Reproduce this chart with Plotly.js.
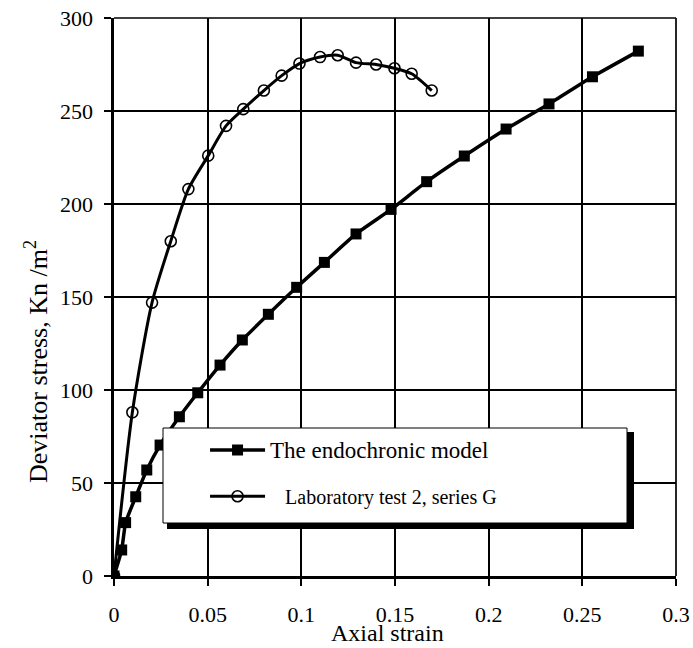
<!DOCTYPE html>
<html>
<head>
<meta charset="utf-8">
<script src="https://cdn.plot.ly/plotly-3.0.1.min.js"></script>
<style>html,body{margin:0;padding:0;background:#fff;}#chart{width:693px;height:648px;}</style>
</head>
<body>
<div id="chart"></div>
<script>
// Data
const modelName = "The endochronic model";
const modelStrain = [0, 0.0041, 0.0062, 0.0116, 0.0175, 0.0246, 0.0349, 0.0447, 0.0566, 0.0685, 0.0824, 0.0975, 0.1123, 0.1292, 0.1479, 0.1669, 0.187, 0.2093, 0.2322, 0.2554, 0.2799];
const modelStress = [0, 14, 28.7, 42.6, 57, 70.4, 85.6, 98.5, 113.4, 126.9, 140.7, 155.2, 168.6, 183.9, 197.1, 212, 225.8, 240.3, 253.8, 268.4, 282.2];

const labName = "\u00a0\u00a0\u00a0Laboratory test 2, series G";
const labStrain = [0, 0.0098, 0.0203, 0.0303, 0.0397, 0.0503, 0.0598, 0.069, 0.080, 0.0895, 0.099, 0.110, 0.1194, 0.1292, 0.1399, 0.1497, 0.1589, 0.1696];
const labStress = [0, 88, 147, 180, 208, 226, 242, 251, 261, 269, 275.5, 279, 280, 276, 275, 273, 270, 261];

const xTicks = [0, 0.05, 0.1, 0.15, 0.2, 0.25, 0.3];
const xTickText = ["0", "0.05", "0.1", "0.15", "0.2", "0.25", "0.3"];
const yTicks = [0, 50, 100, 150, 200, 250, 300];

const xTitle = "Axial strain";
const yTitle = "Deviator stress, Kn /m<sup>2</sup>";

const FONT = "Liberation Serif, Times New Roman, serif";

const traces = [
  {
    x: modelStrain, y: modelStress, name: '<span style="font-size:23px">' + modelName + '</span>',
    type: "scatter", mode: "lines+markers", legendgroup: "a",
    line: {color: "#000", width: 3.5, shape: "spline", smoothing: 0.5},
    marker: {symbol: "square", size: 11, color: "#000"}
  },
  {
    x: labStrain, y: labStress, name: '<span style="font-size:20px">' + labName + '</span>',
    type: "scatter", mode: "lines+markers", legendgroup: "b",
    line: {color: "#000", width: 3, shape: "spline", smoothing: 0.7},
    marker: {symbol: "circle-open", size: 11, color: "#000", line: {width: 1.6, color: "#000"}}
  }
];

const layout = {
  width: 693, height: 648,
  margin: {l: 114, r: 17, t: 18, b: 72, pad: 0},
  paper_bgcolor: "#fff", plot_bgcolor: "#fff",
  font: {family: FONT, size: 22, color: "#000"},
  showlegend: true,
  legend: {
    x: 0.162, y: 0.262, xanchor: "left", yanchor: "top",
    bgcolor: "rgba(0,0,0,0)", borderwidth: 0,
    font: {family: FONT, size: 21, color: "#000"},
    tracegroupgap: 16, traceorder: "grouped", itemwidth: 55
  },
  xaxis: {
    range: [0, 0.3], tickvals: xTicks, ticktext: xTickText,
    showgrid: true, gridcolor: "#000", gridwidth: 1.7,
    zeroline: false, showline: true, linecolor: "#000", linewidth: 3,
    ticks: "outside", ticklen: 7, tickwidth: 2, tickcolor: "#000",
    ticklabelstandoff: 10,
    tickfont: {family: FONT, size: 22, color: "#000"}
  },
  yaxis: {
    range: [0, 300], tickvals: yTicks,
    showgrid: true, gridcolor: "#000", gridwidth: 1.7,
    zeroline: false, showline: true, linecolor: "#000", linewidth: 3.5,
    ticks: "outside", ticklen: 7, tickwidth: 2, tickcolor: "#000",
    ticklabelstandoff: 6,
    tickfont: {family: FONT, size: 22, color: "#000"}
  },
  shapes: [
    {type: "line", xref: "paper", yref: "paper", x0: 0, x1: 1, y0: 1, y1: 1, line: {color: "#000", width: 1.7}},
    {type: "line", xref: "paper", yref: "paper", x0: 1, x1: 1, y0: 0, y1: 1, line: {color: "#000", width: 1.7}},
    {type: "rect", xref: "paper", yref: "paper", layer: "above",
     x0: (167 - 114) / 562, x1: (634 - 114) / 562, y0: (576 - 529) / 558, y1: (576 - 432) / 558,
     fillcolor: "#000", line: {width: 0}},
    {type: "rect", xref: "paper", yref: "paper", layer: "above",
     x0: (163 - 114) / 562, x1: (627 - 114) / 562, y0: (576 - 523) / 558, y1: (576 - 428) / 558,
     fillcolor: "#fff", line: {color: "#000", width: 1}}
  ],
  annotations: [
    {text: xTitle, xref: "paper", yref: "paper", x: 0.486, y: (576 - 633) / 558, xanchor: "center", yanchor: "middle",
     showarrow: false, font: {family: FONT, size: 24, color: "#000"}},
    {text: yTitle, xref: "paper", yref: "paper", x: (36 - 114) / 562, y: (576 - 362) / 558, xanchor: "center", yanchor: "middle",
     textangle: -90, showarrow: false, font: {family: FONT, size: 26, color: "#000"}}
  ]
};

Plotly.newPlot("chart", traces, layout, {displayModeBar: false, staticPlot: true});
</script>
</body>
</html>
